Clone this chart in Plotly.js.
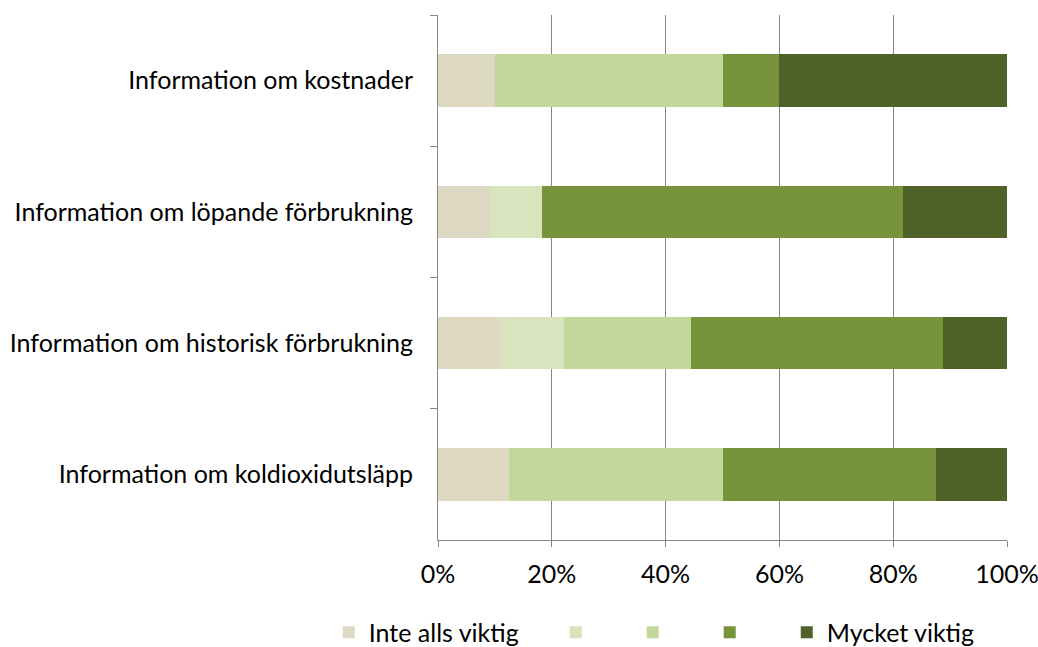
<!DOCTYPE html>
<html>
<head>
<meta charset="utf-8">
<script src="https://cdn.plot.ly/plotly-3.0.1.min.js"></script>
<style>html,body{margin:0;padding:0;background:#fff;}#chart{width:1038px;height:647px;}</style>
</head>
<body>
<div id="chart"></div>
<script>
const categories = [
  "Information om kostnader",
  "Information om löpande förbrukning",
  "Information om historisk förbrukning",
  "Information om koldioxidutsläpp"
];
const seriesNames = ["Inte alls viktig", "", "", "", "Mycket viktig"];
const s1 = [10.0, 9.1, 11.1, 12.5];
const s2 = [0.0, 9.1, 11.1, 0.0];
const s3 = [40.0, 0.0, 22.2, 37.5];
const s4 = [10.0, 63.6, 44.4, 37.5];
const s5 = [40.0, 18.2, 11.2, 12.5];
const xTickVals = [0, 20, 40, 60, 80, 100];
const xTickText = ["0%", "20%", "40%", "60%", "80%", "100%"];
const colors = ["#DDD9C3", "#D7E4BD", "#C4D79B", "#77933C", "#4F6228"];

const pad = "\u00a0".repeat(5);
const allSeries = [s1, s2, s3, s4, s5];
const traces = allSeries.map((vals, i) => ({
  type: "bar",
  orientation: "h",
  y: categories,
  x: vals,
  name: seriesNames[i] + (i < allSeries.length - 1 ? pad : ""),
  marker: {color: colors[i], line: {width: 0}},
  hoverinfo: "skip"
}));

const layout = {
  width: 1038, height: 647,
  margin: {l: 438, r: 31, t: 15, b: 107, autoexpand: false},
  barmode: "stack",
  bargap: 0.6,
  paper_bgcolor: "#fff", plot_bgcolor: "#fff",
  font: {family: "Lato, 'Open Sans', sans-serif", size: 25, color: "#000"},
  showlegend: true,
  legend: {
    orientation: "h", x: -0.192, xanchor: "left", y: -0.176, yanchor: "middle",
    font: {size: 25, color: "#000"}, traceorder: "normal"
  },
  xaxis: {
    range: [0, 100], tickvals: xTickVals, ticktext: xTickText,
    showgrid: true, gridcolor: "#878787", gridwidth: 1,
    showline: true, linecolor: "#878787", linewidth: 1,
    ticks: "outside", ticklen: 6, tickcolor: "#878787",
    ticklabelstandoff: 6, ticklabeloverflow: "allow",
    zeroline: false, fixedrange: true
  },
  yaxis: {
    type: "category", categoryorder: "array", categoryarray: categories,
    autorange: "reversed",
    showgrid: false, showline: true, linecolor: "#878787", linewidth: 1,
    ticks: "outside", ticklen: 7, tickcolor: "#878787", tickson: "boundaries",
    ticklabelstandoff: 19,
    zeroline: false, fixedrange: true
  }
};

Plotly.newPlot("chart", traces, layout, {displayModeBar: false, staticPlot: true});
</script>
</body>
</html>
